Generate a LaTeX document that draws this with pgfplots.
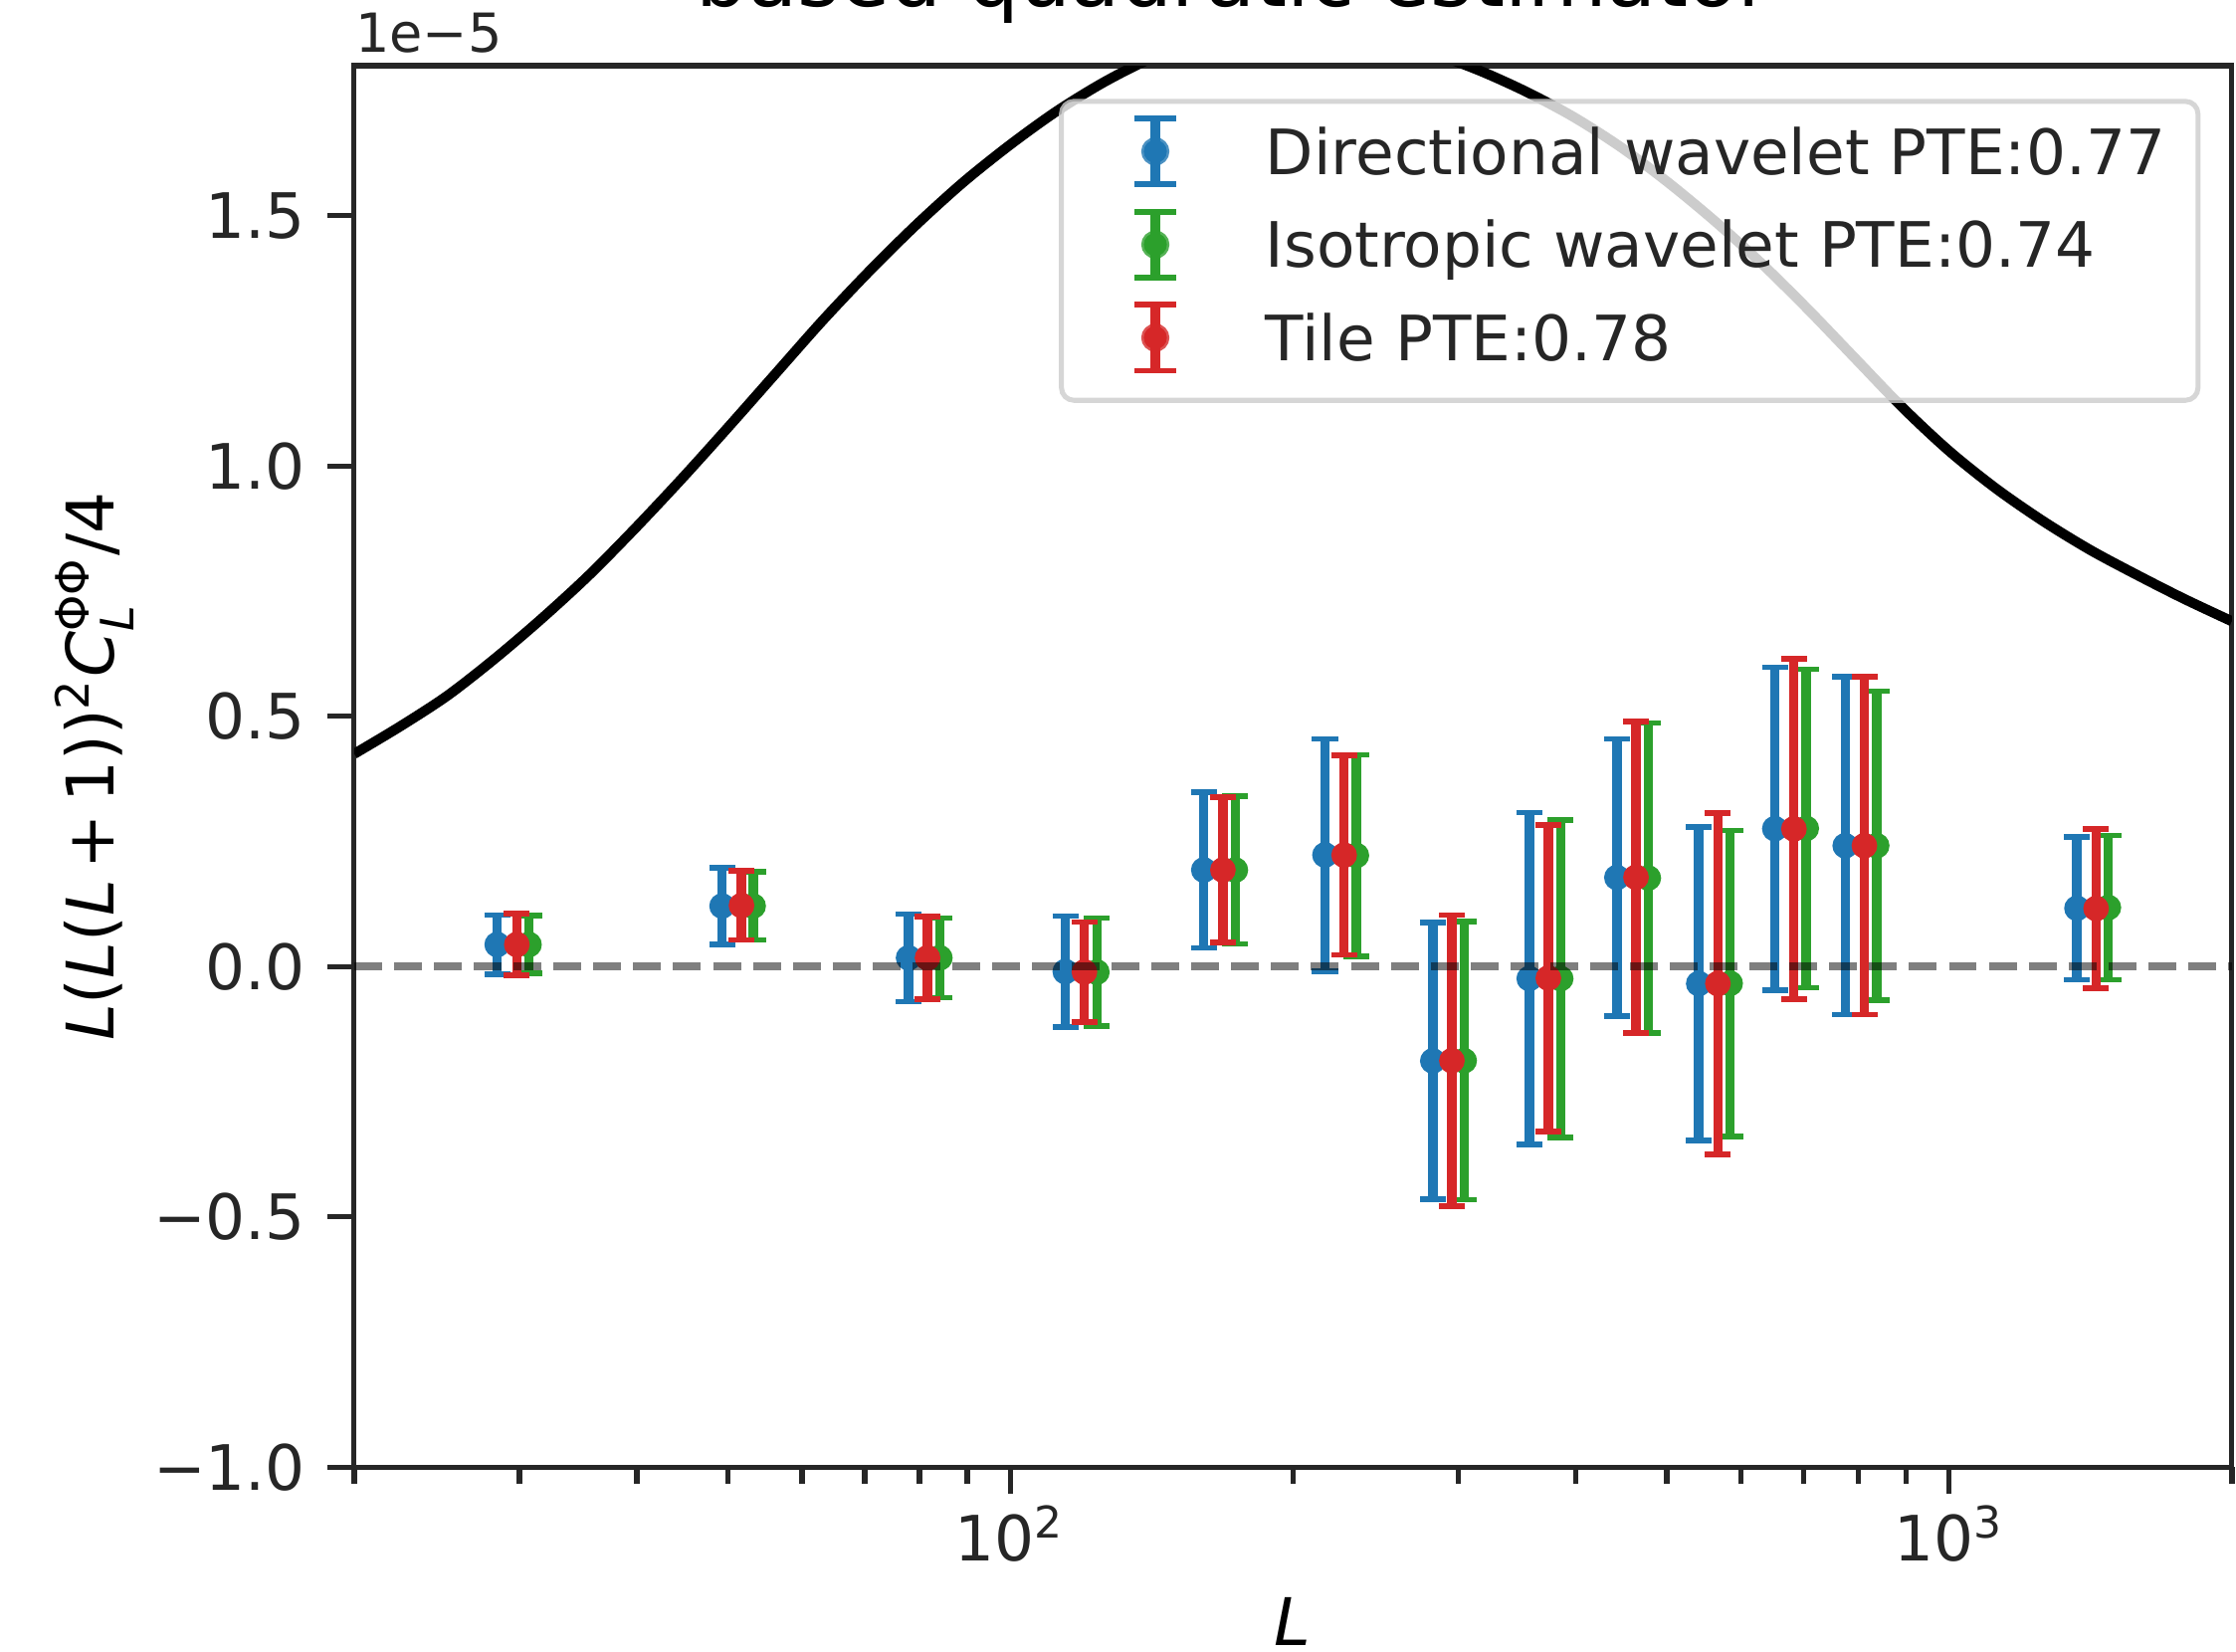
\documentclass[border=0pt]{standalone}
\usepackage{fontspec}
\setmainfont{DejaVu Sans}
\usepackage{amsmath}
\usepackage{pgfplots}
\usepackage{pgfplotstable}
\pgfplotsset{compat=1.18}
\definecolor{tabblue}{HTML}{1F77B4}
\definecolor{tabgreen}{HTML}{2CA02C}
\definecolor{tabred}{HTML}{D62728}
\definecolor{txt}{HTML}{262626}

\pgfplotstableread{
L v e
28.4 0.044 0.059
49.3 0.121 0.0765
77.9 0.0175 0.0875
114.4 -0.010 0.111
160.7 0.193 0.156
216.3 0.223 0.232
281.8 -0.1885 0.2765
357 -0.024 0.332
442.6 0.178 0.277
541 -0.034 0.313
652 0.2755 0.3225
775 0.2415 0.3375
1368 0.1165 0.1425
}\dirtab

\pgfplotstableread{
L v e
30.7 0.044 0.058
53.2 0.121 0.068
84.1 0.0175 0.0795
123.6 -0.011 0.108
173.6 0.193 0.148
233.6 0.222 0.201
304.3 -0.188 0.278
385.6 -0.024 0.317
478 0.177 0.310
584.3 -0.0335 0.3055
704.2 0.276 0.318
837 0.2415 0.3085
1477.4 0.118 0.144
}\isotab

\pgfplotstableread{
L v e
29.8 0.044 0.062
51.7 0.122 0.069
81.6 0.0175 0.0825
119.9 -0.0108 0.100
168.4 0.193 0.145
226.7 0.2227 0.1994
295.3 -0.188 0.291
374.1 -0.023 0.306
463.8 0.1785 0.3115
567 -0.034 0.341
683.3 0.275 0.340
812.2 0.2415 0.3375
1433.7 0.116 0.159
}\tiletab

\pgfplotstableread{
L v
20 0.425
22.39 0.480
25.12 0.541
28.18 0.614
31.62 0.694
35.48 0.780
39.81 0.875
44.67 0.975
50.12 1.079
56.23 1.185
63.10 1.291
70.79 1.390
79.43 1.4825
89.13 1.5675
100 1.6425
112.2 1.710
125.9 1.7675
141.3 1.815
158.5 1.850
177.8 1.870
199.5 1.8775
223.9 1.8725
251.2 1.855
281.8 1.825
316.2 1.790
354.8 1.7475
398.1 1.6975
446.7 1.6375
501.2 1.5675
562.3 1.490
631.0 1.405
707.9 1.3125
794.3 1.215
891.3 1.1175
1000 1.030
1122 0.955
1259 0.890
1413 0.8325
1585 0.7825
1778 0.735
2000 0.690
}\theory

\newcommand{\errimg}[1]{%
  \path (-9.4pt,0pt) (0pt,-7.75pt);
  \draw[#1, line width=1.5pt, draw opacity=1] (0pt,-5.25pt) -- (0pt,5.25pt);
  \draw[#1, line width=0.9pt, draw opacity=1] (-3.3pt,-5.25pt) -- (3.3pt,-5.25pt);
  \draw[#1, line width=0.9pt, draw opacity=1] (-3.3pt,5.25pt) -- (3.3pt,5.25pt);
  \fill[#1, fill opacity=1] (0pt,0pt) circle (1.85pt);
}

\begin{document}
\begin{tikzpicture}
\begin{axis}[
  at={(0,0)}, anchor=south west,
  scale only axis, width=300pt, height=223.9pt,
  xmode=log, xmin=20, xmax=2000, ymin=-1, ymax=1.8,
  clip mode=individual,
  axis line style={line width=0.8pt, draw=txt},
  tick align=outside, xtick pos=left, ytick pos=left,
  xtick={100,1000}, xticklabels={10\textsuperscript{2},10\textsuperscript{3}},
  minor xtick={20,30,40,50,60,70,80,90,200,300,400,500,600,700,800,900,2000},
  ytick={-1,-0.5,0,0.5,1,1.5}, yticklabels={−1.0,−0.5,0.0,0.5,1.0,1.5},
  major tick length=4.3pt, minor tick length=2.7pt,
  every major tick/.append style={line width=0.8pt, draw=txt},
  every minor tick/.append style={line width=0.9pt, draw=txt},
  ticklabel style={font=\fontsize{10}{12}\selectfont, text=txt},
  xticklabel style={inner ysep=1.7pt},
  xlabel={\textit{L}},
  xlabel style={at={(axis description cs:0.5,-0.110)}, anchor=center, font=\fontsize{10.5}{12}\selectfont, text=black},
  ylabel={\textit{L}(\textit{L}(\textit{L}\,+\,1))$^{\text{2}}$\textit{C}$^{\text{ΦΦ}}_{\text{\textit{L}}}$/4},
  ylabel style={at={(axis description cs:-0.1383,0.5)}, anchor=center, rotate=0, font=\fontsize{10.5}{12}\selectfont, text=black},
  legend cell align=left,
  legend style={at={(1,1)}, anchor=north east, xshift=-5.0pt, yshift=-5.3pt,
    draw=black!20, line width=0.8pt, rounded corners=2pt, fill=white,
    fill opacity=0.8, draw opacity=0.8, text opacity=1,
    font=\fontsize{10}{12}\selectfont, text=txt,
    inner xsep=5.2pt, inner ysep=1.85pt, row sep=0.58pt, column sep=13.89pt,
    nodes={inner sep=0pt, text height=9.8pt, text depth=2.5pt}},
]
\addplot[black, line width=1.6pt, smooth, forget plot] table[x=L, y=v] {\theory};

\addplot[only marks, mark=*, mark size=1.85pt, color=tabblue,
  mark options={draw=none, fill=tabblue},
  legend image code/.code={\errimg{tabblue}},
  error bars/.cd, y dir=both, y explicit, error mark=|,
  error bar style={line width=1.5pt, tabblue},
  error mark options={tabblue, line width=0.9pt, mark size=2.07pt}]
  table[x=L, y=v, y error=e] {\dirtab};
\addlegendentry{Directional wavelet PTE:0.77}

\addplot[only marks, mark=*, mark size=1.85pt, color=tabgreen,
  mark options={draw=none, fill=tabgreen},
  legend image code/.code={\errimg{tabgreen}},
  error bars/.cd, y dir=both, y explicit, error mark=|,
  error bar style={line width=1.5pt, tabgreen},
  error mark options={tabgreen, line width=0.9pt, mark size=2.07pt}]
  table[x=L, y=v, y error=e] {\isotab};
\addlegendentry{Isotropic wavelet PTE:0.74}

\addplot[only marks, mark=*, mark size=1.85pt, color=tabred,
  mark options={draw=none, fill=tabred},
  legend image code/.code={\errimg{tabred}},
  error bars/.cd, y dir=both, y explicit, error mark=|,
  error bar style={line width=1.5pt, tabred},
  error mark options={tabred, line width=0.9pt, mark size=2.07pt}]
  table[x=L, y=v, y error=e] {\tiletab};
\addlegendentry{Tile PTE:0.78}

\addplot[draw=black, draw opacity=0.5, line width=1.2pt, dash pattern=on 4.45pt off 1.92pt, forget plot] coordinates {(20,0) (2000,0)};

\node[anchor=base west, inner sep=0pt, font=\fontsize{8.6}{10}\selectfont, text=txt, yshift=2.07pt] at (rel axis cs:0,1) {1e−5};
\node[anchor=base, inner sep=0pt, font=\fontsize{13}{15}\selectfont, text=black, yshift=9.5pt] at (rel axis cs:0.4685,1) {based quadratic estimator};
\end{axis}
\pgfresetboundingbox
\useasboundingbox (-56.6pt,-29.4pt) rectangle (300.67pt,234.4pt);
\end{tikzpicture}
\end{document}
